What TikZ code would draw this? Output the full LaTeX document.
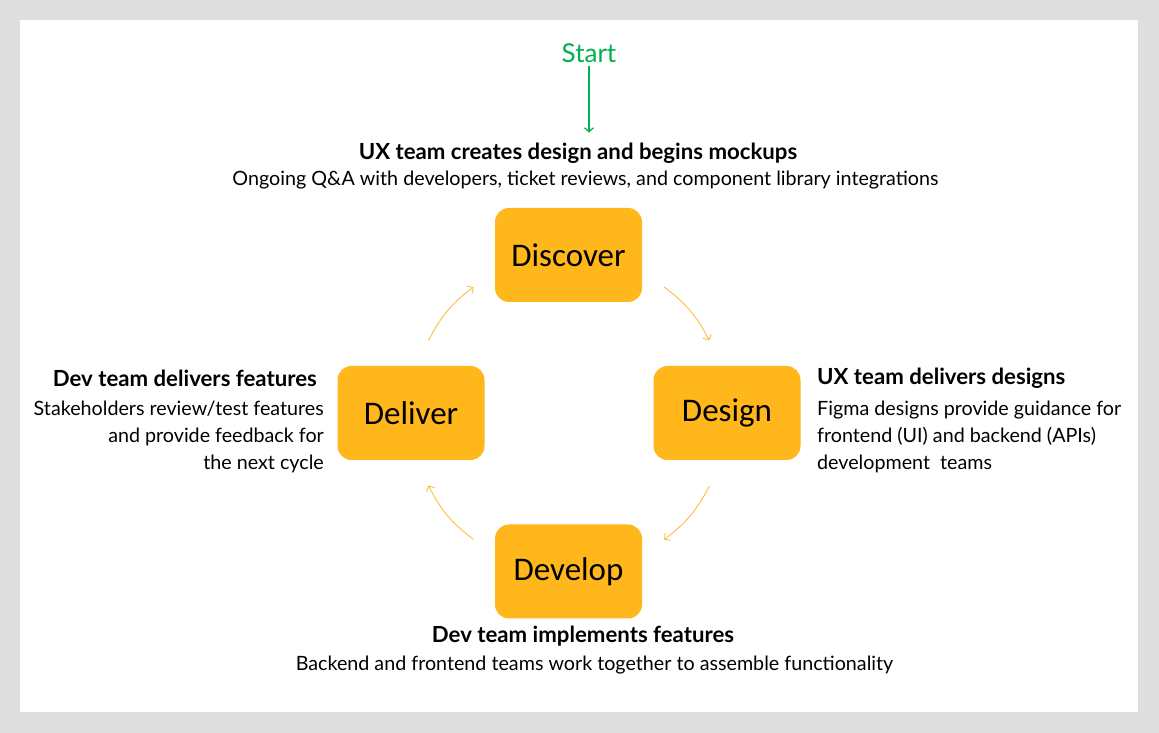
\documentclass[tikz,border=0pt]{standalone}
\usepackage{fontspec}
\setmainfont{Lato}
\newfontfamily\boxfont{Carlito}
\usetikzlibrary{arrows.meta}
\definecolor{pagegrey}{HTML}{DEDEDE}
\definecolor{stepgold}{HTML}{FFB71B}
\definecolor{flowgold}{HTML}{FDB92A}
\definecolor{startgreen}{HTML}{00B050}
\tikzset{
  stepbox/.style={draw=none,fill=stepgold,rounded corners=14bp,minimum width=147bp,
    minimum height=94bp,inner sep=0pt,font=\boxfont\fontsize{33bp}{36bp}\selectfont},
  headtext/.style={inner sep=0pt,font=\bfseries\fontsize{22.2bp}{26bp}\selectfont},
  bodytext/.style={inner sep=0pt,font=\fontsize{19.7bp}{27bp}\selectfont},
  flow/.style={flowgold,line width=0.8bp,-{Straight Barb[length=4bp,width=9bp]}},
}
\begin{document}
\begin{tikzpicture}[>=latex,line join=bevel,]
%%
\useasboundingbox (0bp,0bp) rectangle (1159bp,733bp);
\fill[pagegrey] (0bp,0bp) rectangle (1159bp,733bp);
\fill[white] (20bp,21bp) rectangle (1138bp,713bp);
%%
\node (node_discover) at (568.5bp,478bp) [stepbox] {Discover};
  \node (node_design) at (727bp,320bp) [stepbox] {Design};
  \node (node_develop) at (568.5bp,161.5bp) [stepbox] {Develop};
  \node (node_deliver) at (411bp,320bp) [stepbox] {Deliver};
%
\node (node_start) at (589bp,680bp) [inner sep=0pt,text=startgreen,font=\fontsize{26bp}{28bp}\selectfont] {Start};
  \node (node_uxhead) at (578bp,580bp) [headtext] {UX team creates design and begins mockups};
  \node (node_uxtext) at (585.5bp,553bp) [bodytext] {Ongoing Q\&A with developers, ticket reviews, and component library integrations};
  \node (node_designhead) at (817bp,355bp) [headtext,anchor=west] {UX team delivers designs};
  \node (node_designtext) at (817bp,296bp) [bodytext,anchor=west,align=left] {Figma designs provide guidance for\\frontend (UI) and backend (APIs)\\development\ \ teams};
  \node (node_develophead) at (583bp,97bp) [headtext] {Dev team implements features};
  \node (node_developtext) at (594.5bp,68bp) [bodytext] {Backend and frontend teams work together to assemble functionality};
  \node (node_deliverhead) at (317bp,355bp) [headtext,anchor=east] {Dev team delivers features};
  \node (node_delivertext) at (324bp,296bp) [bodytext,anchor=east,align=right] {Stakeholders review/test features\\and provide feedback for\\the next cycle};
%
\draw [startgreen,line width=1.2bp,-{Straight Barb[length=4bp,width=9bp]},shorten <=3bp,shorten >=10bp] (node_start) -- (node_start |- node_uxhead.north);
%
\path (node_discover.center) to[bend left=45] coordinate[pos=0.41] (c_0) coordinate[pos=0.70] (c_1) (node_design.center);
  \path (node_design.center) to[bend left=45] coordinate[pos=0.30] (c_2) coordinate[pos=0.59] (c_3) (node_develop.center);
  \path (node_develop.center) to[bend left=45] coordinate[pos=0.41] (c_4) coordinate[pos=0.70] (c_5) (node_deliver.center);
  \path (node_deliver.center) to[bend left=45] coordinate[pos=0.30] (c_6) coordinate[pos=0.59] (c_7) (node_discover.center);
  \draw [flow] (c_0) to[bend left=13] (c_1);
  \draw [flow] (c_2) to[bend left=13] (c_3);
  \draw [flow] (c_4) to[bend left=13] (c_5);
  \draw [flow] (c_6) to[bend left=13] (c_7);
%
\end{tikzpicture}
\end{document}
